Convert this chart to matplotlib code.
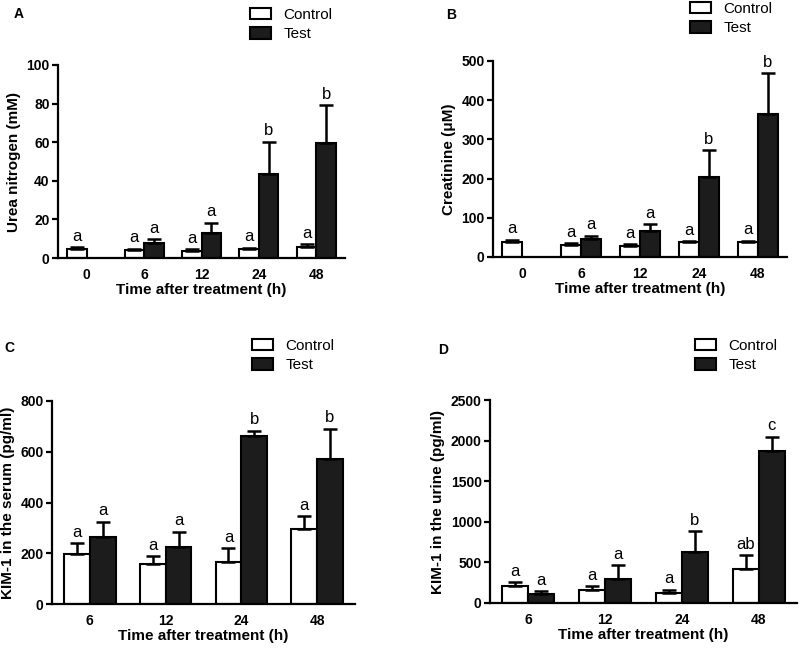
import numpy as np
import matplotlib
matplotlib.use("Agg")
import matplotlib.pyplot as plt
from matplotlib.patches import Patch

plt.rcParams["font.family"] = ["Liberation Sans", "DejaVu Sans"]

# panel A - urea nitrogen
a_times = ["0", "6", "12", "24", "48"]
a_control = [4.5, 4.1, 3.6, 4.7, 5.7]
a_control_err = [1.0, 0.7, 0.9, 0.7, 1.4]
a_test = [np.nan, 7.9, 13.1, 43.5, 59.8]
a_test_err = [np.nan, 1.8, 5.2, 16.8, 19.3]
a_control_sig = ["a", "a", "a", "a", "a"]
a_test_sig = ["", "a", "a", "b", "b"]

# panel B - creatinine
b_times = ["0", "6", "12", "24", "48"]
b_control = [39, 31, 29, 37, 37]
b_control_err = [5, 4, 3, 3, 4]
b_test = [np.nan, 47, 66, 204, 366]
b_test_err = [np.nan, 7, 17, 69, 103]
b_control_sig = ["a", "a", "a", "a", "a"]
b_test_sig = ["", "a", "a", "b", "b"]

# panel C - KIM-1 serum
c_times = ["6", "12", "24", "48"]
c_control = [197, 156, 167, 295]
c_control_err = [42, 33, 52, 50]
c_test = [265, 226, 664, 570]
c_test_err = [59, 59, 18, 121]
c_control_sig = ["a", "a", "a", "a"]
c_test_sig = ["a", "a", "b", "b"]

# panel D - KIM-1 urine
d_times = ["6", "12", "24", "48"]
d_control = [205, 164, 123, 418]
d_control_err = [53, 45, 41, 168]
d_test = [111, 299, 627, 1877]
d_test_err = [37, 168, 254, 172]
d_control_sig = ["a", "a", "a", "ab"]
d_test_sig = ["a", "a", "b", "c"]

W = 0.34
TEST_COLOR = "#1c1c1c"


def draw_panel(ax, times, ctrl, ctrl_err, test, test_err, ctrl_sig, test_sig,
               ylabel, ymax, ystep):
    x = np.arange(len(times))
    ctrl = np.array(ctrl, dtype=float)
    ctrl_err = np.array(ctrl_err, dtype=float)
    test = np.array(test, dtype=float)
    test_err = np.array(test_err, dtype=float)

    for vals, errs, sig, off, fc in [(ctrl, ctrl_err, ctrl_sig, -W / 2, "white"),
                                     (test, test_err, test_sig, W / 2, TEST_COLOR)]:
        ok = ~np.isnan(vals)
        xs = x[ok] + off
        ax.bar(xs, vals[ok], width=W, color=fc, edgecolor="black",
               linewidth=1.5, zorder=2)
        ax.errorbar(xs, vals[ok], yerr=[np.zeros(ok.sum()), errs[ok]],
                    fmt="none", ecolor="black", elinewidth=1.8, capsize=5,
                    capthick=1.8, zorder=3)
        for xi, v, e, s in zip(xs, vals[ok], errs[ok], np.array(sig)[ok]):
            ax.annotate(s, (xi, v + e), xytext=(0, 2.5), textcoords="offset points",
                        ha="center", va="bottom", fontsize=12)

    ax.set_xlim(-0.5, len(times) - 0.5)
    ax.set_ylim(0, ymax)
    ax.set_yticks(np.arange(0, ymax + 1, ystep))
    ax.set_xticks(x)
    ax.set_xticklabels(times)
    for sp in ["top", "right"]:
        ax.spines[sp].set_visible(False)
    for sp in ["left", "bottom"]:
        ax.spines[sp].set_linewidth(1.6)
    ax.tick_params(axis="x", length=0, pad=7, labelsize=10)
    ax.tick_params(axis="y", length=4, width=1.6, pad=2, labelsize=10)
    for lab in ax.get_xticklabels() + ax.get_yticklabels():
        lab.set_fontweight("bold")
    ax.set_xlabel("Time after treatment (h)", fontsize=11, fontweight="bold",
                  labelpad=1)
    ax.set_ylabel(ylabel, fontsize=11, fontweight="bold", labelpad=4)


fig = plt.figure(figsize=(8, 6.49), dpi=100)

ax_a = fig.add_axes([58 / 800, 1 - 258 / 649, 287 / 800, 193 / 649])
ax_b = fig.add_axes([493 / 800, 1 - 257 / 649, 294 / 800, 196 / 649])
ax_c = fig.add_axes([52 / 800, 1 - 604 / 649, 303 / 800, 203 / 649])
ax_d = fig.add_axes([490 / 800, 1 - 603 / 649, 307 / 800, 203 / 649])

draw_panel(ax_a, a_times, a_control, a_control_err, a_test, a_test_err,
           a_control_sig, a_test_sig, "Urea nitrogen (mM)", 100, 20)
draw_panel(ax_b, b_times, b_control, b_control_err, b_test, b_test_err,
           b_control_sig, b_test_sig, "Creatinine (\u03bcM)", 500, 100)
draw_panel(ax_c, c_times, c_control, c_control_err, c_test, c_test_err,
           c_control_sig, c_test_sig, "KIM-1 in the serum (pg/ml)", 800, 200)
draw_panel(ax_d, d_times, d_control, d_control_err, d_test, d_test_err,
           d_control_sig, d_test_sig, "KIM-1 in the urine (pg/ml)", 2500, 500)

handles = [Patch(facecolor="white", edgecolor="black", linewidth=1.5),
           Patch(facecolor=TEST_COLOR, edgecolor="black", linewidth=1.5)]

legend_pos = [(ax_a, 250, 8), (ax_b, 690, 2), (ax_c, 252, 339), (ax_d, 695, 339)]
for ax, lx, ly in legend_pos:
    ax.legend(handles, ["Control", "Test"], loc="upper left",
              bbox_to_anchor=(lx / 800, 1 - ly / 649),
              bbox_transform=fig.transFigure, frameon=False, fontsize=11,
              handlelength=1.4, handleheight=0.75, handletextpad=0.8,
              labelspacing=0.35, borderpad=0, borderaxespad=0)

for lab, lx, ly in [("A", 19, 14), ("B", 451, 15), ("C", 9, 348), ("D", 443, 350)]:
    fig.text(lx / 800, 1 - ly / 649, lab, fontsize=10, fontweight="bold",
             ha="center", va="center")

fig.savefig("out.png", dpi=100)
